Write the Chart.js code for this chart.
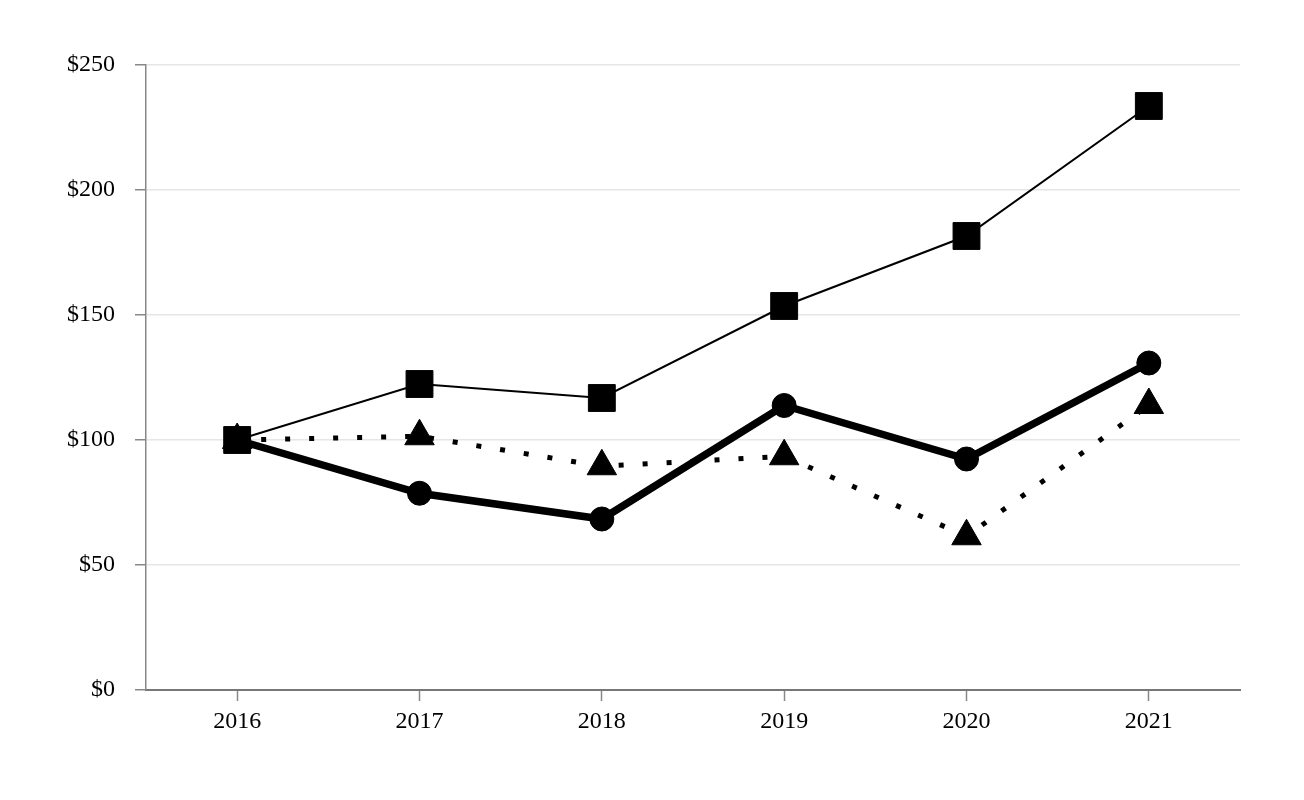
<!DOCTYPE html>
<html>
<head>
<meta charset="utf-8">
<script src="https://cdn.jsdelivr.net/npm/chart.js@4"></script>
<style>
  body { margin: 0; background: #fff; }
  #wrap { width: 1304px; height: 800px; }
</style>
</head>
<body>
<div id="wrap"><canvas id="grafico"></canvas></div>
<script>
const anios = ['2016', '2017', '2018', '2019', '2020', '2021'];
const serieCuadros = [100, 122.4, 116.8, 153.6, 181.6, 233.6];
const serieCirculos = [100, 78.7, 68.4, 113.8, 92.4, 130.8];
const serieTriangulos = [100, 101.5, 89.5, 93.5, 61.5, 114];
const ticksY = [0, 50, 100, 150, 200, 250];

Chart.defaults.font.family = "'Liberation Serif', 'Times New Roman', serif";
Chart.defaults.font.size = 24;
Chart.defaults.color = '#000';

function grafico() {
    const ctx = document.getElementById('grafico');

    new Chart(ctx, {
        type: 'line',
        data: {
            labels: anios,
            datasets: [
                {
                    label: 'Cuadros',
                    data: serieCuadros,
                    borderColor: '#000',
                    backgroundColor: '#000',
                    borderWidth: 2,
                    pointStyle: 'rect',
                    pointRadius: 19,
                    pointBorderWidth: 1,
                    order: 1
                },
                {
                    label: 'Circulos',
                    data: serieCirculos,
                    borderColor: '#000',
                    backgroundColor: '#000',
                    borderWidth: 7.5,
                    pointStyle: 'circle',
                    pointRadius: 12,
                    pointBorderWidth: 1,
                    order: 2
                },
                {
                    label: 'Triangulos',
                    data: serieTriangulos,
                    borderColor: '#000',
                    backgroundColor: '#000',
                    borderWidth: 5,
                    borderDash: [5, 19],
                    borderCapStyle: 'butt',
                    pointStyle: 'triangle',
                    pointRadius: 17,
                    pointBorderWidth: 1,
                    order: 3
                }
            ]
        },
        options: {
            responsive: true,
            maintainAspectRatio: false,
            animation: false,
            layout: { padding: { top: 65, right: 64, bottom: 0, left: 0 } },
            plugins: {
                legend: { display: false },
                tooltip: { enabled: false }
            },
            scales: {
                x: {
                    offset: true,
                    afterFit: (s) => { s.height = 110; },
                    grid: {
                        drawOnChartArea: false,
                        drawTicks: true,
                        tickLength: 11,
                        tickColor: '#888',
                        tickWidth: 1.5,
                        offset: false
                    },
                    border: { color: '#777', width: 2 },
                    ticks: { padding: 6 }
                },
                y: {
                    min: 0,
                    max: 250,
                    afterFit: (s) => { s.width = 146; },
                    afterBuildTicks: (s) => { s.ticks = ticksY.map(v => ({ value: v })); },
                    grid: {
                        color: '#e6e6e6',
                        lineWidth: 1.5,
                        tickLength: 11,
                        tickColor: '#888',
                        tickWidth: 1.5
                    },
                    border: { color: '#888', width: 1.5 },
                    ticks: {
                        padding: 20,
                        callback: (v) => '$' + v
                    }
                }
            }
        }
    });
}

grafico();
</script>
</body>
</html>
